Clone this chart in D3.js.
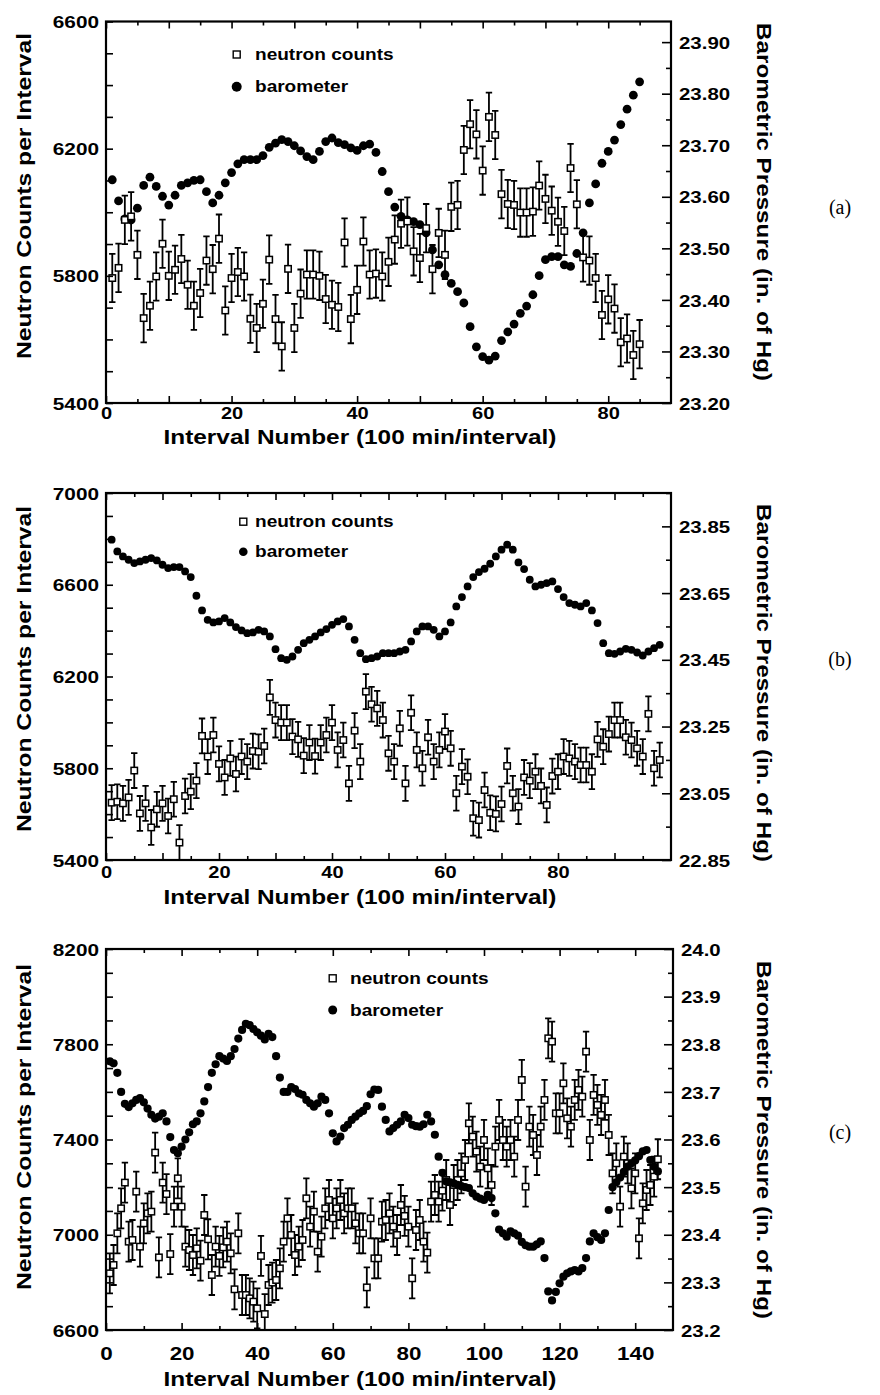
<!DOCTYPE html>
<html>
<head>
<meta charset="utf-8">
<script src="https://d3js.org/d3.v7.min.js"></script>
<style>
  html, body { margin: 0; padding: 0; background: #fff; }
  svg { display: block; }
</style>
</head>
<body>
<svg id="chart" width="880" height="1395"></svg>
<script>
// ---------------- DATA ----------------
// Panel (a): interval 1..85
const neutronA = [5793,5825,5976,5987,5866,5667,5706,5798,5901,5800,
  5819,5853,5772,5706,5746,5848,5821,5917,5691,5793,
  5812,5798,5665,5636,5712,5851,5664,5578,5822,5636,
  5744,5804,5804,5800,5727,5709,5702,5905,5664,5756,
  5908,5804,5807,5798,5844,5914,5964,5971,5877,5856,
  5950,5821,5935,5866,6017,6023,6196,6277,6245,6131,
  6300,6243,6057,6026,6023,5999,5999,6002,6084,6042,
  6005,5970,5941,6139,6025,5858,5848,5793,5677,5726,
  5697,5591,5603,5551,5585];
const baroA = [23.633,23.592,23.557,23.555,23.578,23.622,23.638,23.620,23.601,23.584,
  23.603,23.622,23.627,23.632,23.633,23.610,23.588,23.603,23.627,23.647,
  23.664,23.672,23.672,23.672,23.680,23.696,23.704,23.711,23.707,23.699,
  23.689,23.678,23.672,23.688,23.707,23.714,23.705,23.701,23.695,23.690,
  23.699,23.702,23.686,23.649,23.610,23.580,23.562,23.555,23.552,23.546,
  23.530,23.497,23.468,23.449,23.432,23.416,23.394,23.348,23.309,23.290,
  23.283,23.291,23.321,23.338,23.353,23.374,23.388,23.410,23.447,23.478,
  23.484,23.484,23.468,23.465,23.490,23.530,23.588,23.625,23.665,23.688,
  23.710,23.740,23.770,23.797,23.823];
const errA = 76;

// Panel (b): interval 1..98
const neutronB = [5650,5654,5647,5673,5790,5603,5647,5542,5621,5647,
  5592,5665,5476,5679,5698,5746,5941,5851,5945,5819,
  5760,5843,5775,5851,5829,5875,5872,5897,6109,6010,
  5999,5999,5938,5926,5855,5912,5853,5912,5945,5999,
  5880,5923,5734,5964,5829,6134,6079,6061,6010,5865,
  5829,5974,5734,6042,5880,5800,5935,5829,5880,5960,
  5887,5691,5807,5763,5582,5574,5705,5606,5601,5644,
  5810,5691,5633,5760,5746,5785,5723,5640,5766,5785,
  5851,5843,5829,5814,5814,5785,5926,5894,5949,6010,
  6010,5935,5923,5887,5851,6037,5800,5836];
const baroB = [23.810,23.775,23.760,23.750,23.740,23.745,23.750,23.755,23.748,23.735,
  23.725,23.728,23.728,23.715,23.698,23.642,23.598,23.570,23.562,23.565,
  23.575,23.562,23.548,23.538,23.530,23.532,23.540,23.535,23.520,23.482,
  23.455,23.450,23.460,23.480,23.500,23.510,23.520,23.532,23.542,23.555,
  23.565,23.572,23.550,23.510,23.470,23.452,23.455,23.460,23.470,23.470,
  23.470,23.475,23.480,23.505,23.535,23.550,23.550,23.540,23.520,23.535,
  23.562,23.610,23.638,23.670,23.698,23.713,23.723,23.738,23.760,23.780,
  23.795,23.780,23.742,23.722,23.690,23.670,23.675,23.680,23.685,23.662,
  23.638,23.620,23.615,23.610,23.620,23.598,23.560,23.500,23.470,23.468,
  23.475,23.483,23.480,23.472,23.463,23.475,23.485,23.495];
const errB = 76;

// Panel (c): interval 1..146
const neutronC = [6838,6873,7006,7111,7219,6971,6978,7181,6950,7048,
  7090,7097,7345,6905,7219,7171,6919,7118,7237,7118,
  6950,6936,6915,6943,6891,7083,6981,6831,6950,6911,
  6947,6971,6922,6771,7006,6747,6747,6733,6719,6691,
  6911,6667,6789,6799,6810,6859,6971,7069,6999,6915,
  6950,6978,7153,7034,7097,6929,6992,7111,7146,7069,
  7111,7146,7090,7111,7111,7048,7006,7006,6779,7069,
  6901,6901,7055,7062,7090,7034,6999,7125,7079,7034,
  6817,7020,7062,6971,6925,7139,7167,7139,7185,7230,
  7125,7209,7230,7258,7314,7468,7412,7349,7286,7398,
  7279,7209,7370,7482,7398,7370,7398,7328,7482,7650,
  7202,7454,7419,7335,7454,7566,7825,7811,7510,7510,
  7636,7489,7454,7566,7608,7580,7769,7398,7587,7545,
  7503,7566,7419,7258,7300,7118,7328,7300,7195,7258,
  6985,7132,7188,7209,7244,7317];
const baroC = [23.764,23.760,23.740,23.700,23.675,23.668,23.676,23.683,23.687,23.678,
  23.665,23.652,23.644,23.648,23.655,23.638,23.605,23.578,23.571,23.585,
  23.600,23.615,23.632,23.638,23.655,23.680,23.710,23.740,23.758,23.775,
  23.770,23.765,23.775,23.790,23.812,23.830,23.843,23.840,23.832,23.825,
  23.818,23.810,23.822,23.815,23.775,23.730,23.700,23.700,23.710,23.706,
  23.697,23.694,23.683,23.676,23.669,23.676,23.690,23.683,23.655,23.613,
  23.596,23.606,23.624,23.631,23.641,23.648,23.655,23.660,23.670,23.695,
  23.705,23.704,23.669,23.641,23.617,23.624,23.631,23.638,23.652,23.645,
  23.631,23.628,23.627,23.632,23.652,23.638,23.610,23.564,23.530,23.512,
  23.510,23.508,23.505,23.502,23.500,23.498,23.487,23.480,23.476,23.473,
  23.484,23.477,23.445,23.411,23.403,23.396,23.407,23.403,23.398,23.385,
  23.378,23.375,23.375,23.380,23.386,23.351,23.281,23.262,23.280,23.298,
  23.312,23.319,23.323,23.326,23.323,23.330,23.351,23.386,23.403,23.395,
  23.389,23.403,23.452,23.500,23.510,23.520,23.532,23.543,23.550,23.556,
  23.565,23.575,23.578,23.557,23.543,23.533];
const errC = 84;

// Tick labels
const xLabelsA = [0, 20, 40, 60, 80];
const xLabelsB = [0, 20, 40, 60, 80];
const xLabelsC = [0, 20, 40, 60, 80, 100, 120, 140];
const leftLabelsA = [5400, 5800, 6200, 6600];
const leftLabelsB = [5400, 5800, 6200, 6600, 7000];
const leftLabelsC = [6600, 7000, 7400, 7800, 8200];
const rightLabelsA = [23.20, 23.30, 23.40, 23.50, 23.60, 23.70, 23.80, 23.90];
const rightLabelsB = [22.85, 23.05, 23.25, 23.45, 23.65, 23.85];
const rightLabelsC = [23.2, 23.3, 23.4, 23.5, 23.6, 23.7, 23.8, 23.9, 24.0];

const legendLabels = ["neutron counts", "barometer"];
const leftTitle = "Neutron Counts per Interval";
const rightTitle = "Barometric Pressure (in. of Hg)";
const bottomTitle = "Interval Number (100 min/interval)";

// ---------------- LAYOUT ----------------
const SANS = "'Liberation Sans', Arial, Helvetica, sans-serif";
const SERIF = "'Liberation Serif', 'Times New Roman', serif";

const panels = [
  { key: "a", label: "(a)", neutron: neutronA, baro: baroA, err: errA,
    xDomain: [0, 90], yLDomain: [5400, 6600], yRDomain: [23.2, 23.94],
    left: 106, right: 671, top: 21.5, bottom: 403,
    xLabels: xLabelsA, xMinorStep: 5, xMajorStep: 10,
    leftLabels: leftLabelsA, leftStep: 100,
    rightLabels: rightLabelsA, rightMinor: 0.05, rightFmt: ".2f",
    dotR: 4.4, dotsOnTop: false,
    legX: 236.7, legY1: 54.5, legY2: 86.7, legTextX: 255, legDotR: 5,
    xLabelY: 419, xLabelSize: 17, xTitleY: 444,
    leftTitleY: 196, rightTitleY: 202, panelLabelY: 208 },
  { key: "b", label: "(b)", neutron: neutronB, baro: baroB, err: errB,
    xDomain: [0, 100], yLDomain: [5400, 7000], yRDomain: [22.85, 23.95],
    left: 106, right: 671, top: 493, bottom: 860,
    xLabels: xLabelsB, xMinorStep: 5, xMajorStep: 10,
    leftLabels: leftLabelsB, leftStep: 100,
    rightLabels: rightLabelsB, rightMinor: 0.1, rightFmt: ".2f",
    dotR: 3.9, dotsOnTop: false,
    legX: 243.3, legY1: 521.7, legY2: 551.7, legTextX: 255, legDotR: 4.3,
    xLabelY: 878, xLabelSize: 17, xTitleY: 904,
    leftTitleY: 669, rightTitleY: 683, panelLabelY: 660 },
  { key: "c", label: "(c)", neutron: neutronC, baro: baroC, err: errC,
    xDomain: [0, 150], yLDomain: [6600, 8200], yRDomain: [23.2, 24.0],
    left: 106, right: 673, top: 949, bottom: 1330,
    xLabels: xLabelsC, xMinorStep: 10, xMajorStep: 20,
    leftLabels: leftLabelsC, leftStep: 100,
    rightLabels: rightLabelsC, rightMinor: 0.05, rightFmt: ".1f",
    dotR: 4.1, dotsOnTop: true,
    legX: 332.7, legY1: 978.3, legY2: 1010, legTextX: 350, legDotR: 4.5,
    xLabelY: 1360, xLabelSize: 19, xTitleY: 1386,
    leftTitleY: 1127, rightTitleY: 1140, panelLabelY: 1133 }
];

const svg = d3.select("#chart");

function stretch(sel, f) {
  sel.each(function () {
    const L = this.getComputedTextLength();
    if (L > 0) {
      this.setAttribute("textLength", (L * f).toFixed(1));
      this.setAttribute("lengthAdjust", "spacingAndGlyphs");
    }
  });
}

function styleAxis(g) {
  g.select(".domain").remove();
  g.selectAll(".tick line").attr("stroke", "#000").attr("stroke-width", 1.6);
  g.attr("font-family", SANS).attr("font-weight", "bold");
  g.selectAll("text").attr("fill", "#000");
}

function drawPanel(p) {
  const root = svg.append("g").attr("class", "panel-" + p.key);
  const x = d3.scaleLinear().domain(p.xDomain).range([p.left, p.right]);
  const yL = d3.scaleLinear().domain(p.yLDomain).range([p.bottom, p.top]);
  const yR = d3.scaleLinear().domain(p.yRDomain).range([p.bottom, p.top]);

  const clipId = "clip-" + p.key;
  svg.append("defs").append("clipPath").attr("id", clipId)
    .append("rect").attr("x", p.left).attr("y", p.top)
    .attr("width", p.right - p.left).attr("height", p.bottom - p.top);

  const plot = root.append("g").attr("clip-path", `url(#${clipId})`);

  const nData = p.neutron.map((v, i) => ({ k: i + 1, v }));
  const bData = p.baro.map((v, i) => ({ k: i + 1, v }));

  function drawDots() {
    plot.append("g").selectAll("circle").data(bData).join("circle")
      .attr("cx", d => x(d.k)).attr("cy", d => yR(d.v)).attr("r", p.dotR)
      .attr("fill", "#000");
  }
  function drawSquares() {
    const eg = plot.append("g").attr("stroke", "#000").attr("stroke-width", 1.8).attr("fill", "none");
    eg.selectAll("path").data(nData).join("path")
      .attr("d", d => {
        const cx = x(d.k), y1 = yL(d.v - p.err), y2 = yL(d.v + p.err), c = 3.2;
        return `M${cx},${y1}V${y2}M${cx - c},${y1}H${cx + c}M${cx - c},${y2}H${cx + c}`;
      });
    plot.append("g").selectAll("rect").data(nData).join("rect")
      .attr("x", d => x(d.k) - 3.2).attr("y", d => yL(d.v) - 3.2)
      .attr("width", 6.4).attr("height", 6.4)
      .attr("fill", "#fff").attr("stroke", "#000").attr("stroke-width", 1.5);
  }
  if (p.dotsOnTop) { drawSquares(); drawDots(); } else { drawDots(); drawSquares(); }

  // ---- Axes ----
  const xMinor = d3.range(p.xDomain[0], p.xDomain[1], p.xMinorStep).filter(v => v % p.xMajorStep !== 0);
  const xMajor = d3.range(p.xDomain[0], p.xDomain[1], p.xMajorStep);

  // bottom
  const gb1 = root.append("g").attr("transform", `translate(0,${p.bottom})`)
    .call(d3.axisBottom(x).tickValues(xMinor).tickSizeInner(-4).tickSizeOuter(0).tickFormat(""));
  styleAxis(gb1);
  const gb2 = root.append("g").attr("transform", `translate(0,${p.bottom})`)
    .call(d3.axisBottom(x).tickValues(xMajor).tickSizeInner(-7).tickSizeOuter(0).tickFormat(""));
  styleAxis(gb2);
  const gbl = root.append("g").attr("transform", `translate(0,${p.bottom})`)
    .call(d3.axisBottom(x).tickValues(p.xLabels).tickSize(0).tickFormat(d3.format("d")));
  styleAxis(gbl);
  gbl.selectAll("text").attr("y", p.xLabelY - p.bottom).attr("dy", null)
    .attr("font-size", p.xLabelSize);
  stretch(gbl.selectAll("text"), 1.18);

  // top
  const gt1 = root.append("g").attr("transform", `translate(0,${p.top})`)
    .call(d3.axisTop(x).tickValues(xMinor).tickSizeInner(-4).tickSizeOuter(0).tickFormat(""));
  styleAxis(gt1);
  const gt2 = root.append("g").attr("transform", `translate(0,${p.top})`)
    .call(d3.axisTop(x).tickValues(xMajor).tickSizeInner(-7).tickSizeOuter(0).tickFormat(""));
  styleAxis(gt2);

  // left
  const leftTicks = d3.range(p.yLDomain[0], p.yLDomain[1] + 1, p.leftStep);
  const gl = root.append("g").attr("transform", `translate(${p.left},0)`)
    .call(d3.axisLeft(yL).tickValues(leftTicks).tickSizeInner(-7).tickSizeOuter(0).tickFormat(""));
  styleAxis(gl);
  const gll = root.append("g").attr("transform", `translate(${p.left},0)`)
    .call(d3.axisLeft(yL).tickValues(p.leftLabels).tickSize(0).tickPadding(7).tickFormat(d3.format("d")));
  styleAxis(gll);
  gll.selectAll("text").attr("font-size", 17).attr("dy", "0.36em");
  stretch(gll.selectAll("text"), 1.22);

  // right
  const rMinor = d3.range(p.yRDomain[0], p.yRDomain[1] + 1e-9, p.rightMinor)
    .filter(v => !p.rightLabels.some(l => Math.abs(l - v) < 1e-6));
  const gr1 = root.append("g").attr("transform", `translate(${p.right},0)`)
    .call(d3.axisRight(yR).tickValues(rMinor).tickSizeInner(-5).tickSizeOuter(0).tickFormat(""));
  styleAxis(gr1);
  const gr2 = root.append("g").attr("transform", `translate(${p.right},0)`)
    .call(d3.axisRight(yR).tickValues(p.rightLabels).tickSizeInner(-9).tickSizeOuter(0).tickPadding(9)
      .tickFormat(d3.format(p.rightFmt)));
  styleAxis(gr2);
  gr2.selectAll("text").attr("font-size", 17).attr("dy", "0.36em").attr("x", 8);
  stretch(gr2.selectAll("text"), 1.2);

  // frame
  root.append("rect").attr("x", p.left).attr("y", p.top)
    .attr("width", p.right - p.left).attr("height", p.bottom - p.top)
    .attr("fill", "none").attr("stroke", "#000").attr("stroke-width", 2.2);

  // titles
  root.append("text")
    .attr("transform", `translate(31,${p.leftTitleY}) rotate(-90)`)
    .attr("text-anchor", "middle").attr("font-family", SANS).attr("font-weight", "bold")
    .attr("font-size", 21).text(leftTitle)
    .attr("textLength", 326).attr("lengthAdjust", "spacingAndGlyphs");
  root.append("text")
    .attr("transform", `translate(757,${p.rightTitleY}) rotate(90)`)
    .attr("text-anchor", "middle").attr("font-family", SANS).attr("font-weight", "bold")
    .attr("font-size", 21).text(rightTitle)
    .attr("textLength", 358).attr("lengthAdjust", "spacingAndGlyphs");
  root.append("text")
    .attr("x", 360).attr("y", p.xTitleY)
    .attr("text-anchor", "middle").attr("font-family", SANS).attr("font-weight", "bold")
    .attr("font-size", 21).text(bottomTitle)
    .attr("textLength", 393).attr("lengthAdjust", "spacingAndGlyphs");

  // panel label
  root.append("text").attr("x", 840).attr("y", p.panelLabelY + 6)
    .attr("text-anchor", "middle").attr("font-family", SERIF).attr("font-size", 20)
    .text(p.label);

  // legend
  const lg = root.append("g");
  lg.append("rect").attr("x", p.legX - 3.5).attr("y", p.legY1 - 3.5).attr("width", 7).attr("height", 7)
    .attr("fill", "#fff").attr("stroke", "#000").attr("stroke-width", 1.4);
  lg.append("circle").attr("cx", p.legX).attr("cy", p.legY2).attr("r", p.legDotR).attr("fill", "#000");
  const lt1 = lg.append("text").attr("x", p.legTextX).attr("y", p.legY1 + 5.5)
    .attr("font-family", SANS).attr("font-weight", "bold").attr("font-size", 16).text(legendLabels[0]);
  const lt2 = lg.append("text").attr("x", p.legTextX).attr("y", p.legY2 + 5.5)
    .attr("font-family", SANS).attr("font-weight", "bold").attr("font-size", 16).text(legendLabels[1]);
  stretch(lt1, 1.19);
  stretch(lt2, 1.19);
}

panels.forEach(drawPanel);
</script>
</body>
</html>
